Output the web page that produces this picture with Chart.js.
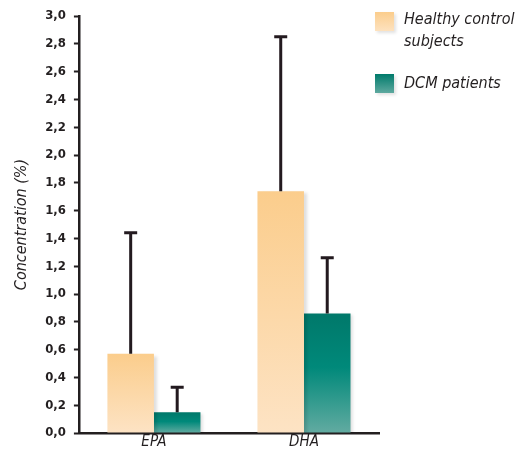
<!DOCTYPE html>
<html>
<head>
<meta charset="utf-8">
<script src="https://cdn.jsdelivr.net/npm/chart.js@4/dist/chart.umd.min.js"></script>
<style>
  body { margin: 0; background: #fff; }
  #wrap { position: relative; width: 524px; height: 451px; }
  .leg { position: absolute; font-family: 'DejaVu Sans Condensed', 'DejaVu Sans', sans-serif; font-style: italic; font-size: 16px; color: #231f20; line-height: 22px; }
  .sw { position: absolute; width: 19px; height: 19px; box-shadow: 2px 2px 3px rgba(0,0,0,0.12); }
</style>
</head>
<body>
<div id="wrap">
  <canvas id="chart" width="524" height="451"></canvas>
  <div class="sw" style="left:375px;top:12px;background:linear-gradient(#fbcd8c,#fde2bf)"></div>
  <div class="leg" style="left:404px;top:8px">Healthy control<br>subjects</div>
  <div class="sw" style="left:375px;top:74px;background:linear-gradient(#007a6b,#5ea99f)"></div>
  <div class="leg" style="left:404px;top:72px">DCM patients</div>
</div>
<script>
const labels = ['EPA', 'DHA'];
const healthy = [0.57, 1.74];
const healthyErr = [1.44, 2.85];
const dcm = [0.15, 0.86];
const dcmErr = [0.33, 1.26];

function grad(stops) {
  return function(c) {
    const y = c.chart.scales.y;
    if (!y || c.parsed == null) return stops[0][1];
    const top = y.getPixelForValue(c.parsed.y);
    const base = y.getPixelForValue(0);
    if (!isFinite(top) || !isFinite(base) || top === base) return stops[0][1];
    const g = c.chart.ctx.createLinearGradient(0, top, 0, base);
    stops.forEach(s => g.addColorStop(s[0], s[1]));
    return g;
  };
}

const barShadow = {
  id: 'barShadow',
  beforeDatasetsDraw(chart) {
    const ctx = chart.ctx;
    ctx.save();
    ctx.shadowColor = 'rgba(0,0,0,0.13)';
    ctx.shadowOffsetX = 3;
    ctx.shadowOffsetY = 2;
    ctx.shadowBlur = 3;
  },
  afterDatasetsDraw(chart) {
    chart.ctx.restore();
  }
};

const errorBars = {
  id: 'errorBars',
  afterDatasetsDraw(chart) {
    const ctx = chart.ctx;
    const y = chart.scales.y;
    chart.data.datasets.forEach((ds, i) => {
      const meta = chart.getDatasetMeta(i);
      meta.data.forEach((bar, j) => {
        const top = y.getPixelForValue(ds.err[j]);
        ctx.save();
        ctx.strokeStyle = '#231a1f';
        ctx.lineWidth = 3;
        ctx.beginPath();
        ctx.moveTo(bar.x, bar.y);
        ctx.lineTo(bar.x, top);
        ctx.moveTo(bar.x - 6.5, top);
        ctx.lineTo(bar.x + 6.5, top);
        ctx.stroke();
        ctx.restore();
      });
    });
  }
};

new Chart(document.getElementById('chart'), {
  type: 'bar',
  data: {
    labels: labels,
    datasets: [
      {
        label: 'Healthy control subjects',
        data: healthy,
        err: healthyErr,
        backgroundColor: grad([[0, '#fbcd8c'], [1, '#fde3c4']])
      },
      {
        label: 'DCM patients',
        data: dcm,
        err: dcmErr,
        backgroundColor: grad([[0, '#00786a'], [0.45, '#00897a'], [1, '#62aba1']])
      }
    ]
  },
  options: {
    responsive: false,
    animation: false,
    layout: { padding: { top: 16, right: 145, left: 12, bottom: 0 } },
    datasets: { bar: { categoryPercentage: 0.62, barPercentage: 1 } },
    plugins: {
      legend: { display: false },
      tooltip: { enabled: false }
    },
    scales: {
      x: {
        afterFit: s => { s.height = 18; },
        grid: { display: false },
        border: { display: true, color: '#231f20', width: 2.5 },
        ticks: {
          color: '#231f20',
          padding: -6,
          font: { family: "'DejaVu Sans Condensed', 'DejaVu Sans', sans-serif", style: 'italic', size: 15, lineHeight: 1 }
        }
      },
      y: {
        min: 0,
        max: 3,
        ticks: {
          stepSize: 0.2,
          color: '#231f20',
          padding: 8,
          font: { family: "'Liberation Sans Narrow', 'DejaVu Sans Condensed', sans-serif", weight: 'bold', size: 13 },
          callback: v => v.toFixed(1).replace('.', ',')
        },
        grid: { display: true, drawOnChartArea: false, drawTicks: true, tickLength: 5, color: '#231f20', tickWidth: 2 },
        border: { display: true, color: '#231f20', width: 2.5 },
        title: {
          display: true,
          text: 'Concentration (%)',
          color: '#231f20',
          padding: { top: 0, bottom: 6 },
          font: { family: "'DejaVu Sans Condensed', 'DejaVu Sans', sans-serif", style: 'italic', size: 16 }
        }
      }
    }
  },
  plugins: [barShadow, errorBars]
});
</script>
</body>
</html>
